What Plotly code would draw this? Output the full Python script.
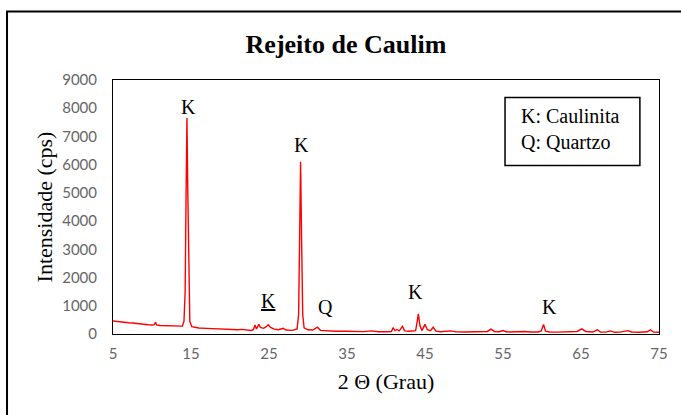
import plotly.graph_objects as go

# 2-theta (degrees) and intensity (cps)
two_theta = [
    5.0, 5.5, 6.0, 6.5, 7.0, 7.5, 8.0, 8.5, 9.0, 9.5, 10.0, 10.3, 10.45, 10.6,
    11.0, 11.5, 12.0, 12.5, 13.0, 13.5, 13.9, 14.1, 14.25, 14.38, 14.48, 14.58,
    14.72, 14.85, 15.1, 15.5, 16.0, 17.0, 18.0, 19.0, 20.0, 21.0, 21.5, 22.0,
    22.7, 23.0, 23.2, 23.4, 23.7, 23.9, 24.3, 24.6, 24.9, 25.2, 25.6, 26.2,
    26.8, 27.2, 28.0, 28.6, 28.8, 28.93, 29.05, 29.17, 29.32, 29.5, 30.0, 30.6,
    31.2, 31.6, 32.5, 33.5, 35.0, 36.0, 37.0, 38.2, 39.0, 40.0, 40.7, 40.9,
    41.15, 41.4, 41.7, 42.1, 42.4, 43.0, 43.8, 44.0, 44.15, 44.35, 44.6, 45.0,
    45.3, 45.7, 46.05, 46.4, 47.0, 48.3, 49.0, 50.0, 51.0, 52.0, 53.0, 53.45,
    53.9, 54.5, 55.0, 55.5, 56.0, 57.0, 57.8, 58.5, 59.5, 59.9, 60.2, 60.45,
    61.0, 62.0, 63.0, 64.5, 65.1, 65.6, 66.5, 67.1, 67.5, 68.2, 68.8, 69.3,
    70.0, 70.5, 71.0, 71.5, 72.5, 73.5, 73.9, 74.3, 75.0,
]
intensity = [
    460, 440, 430, 420, 400, 390, 370, 360, 340, 330, 320, 330, 420, 320,
    300, 295, 285, 275, 270, 265, 280, 450, 1500, 5200, 7650, 5200,
    1400, 450, 260, 230, 215, 200, 185, 175, 160, 150, 165, 140,
    125, 150, 320, 180, 340, 230, 200, 250, 330, 230, 180, 150,
    200, 140, 130, 180, 700, 3500, 6100, 3500, 700, 220, 150, 140,
    240, 130, 110, 100, 95, 90, 85, 110, 80, 80, 90, 225,
    120, 160, 110, 270, 110, 100, 120, 450, 710, 300, 120, 340,
    150, 120, 240, 100, 80, 110, 75, 70, 70, 75, 90, 170,
    90, 80, 120, 70, 75, 70, 90, 70, 70, 110, 340, 100,
    70, 65, 70, 90, 180, 90, 70, 150, 70, 65, 110, 60,
    65, 80, 120, 70, 60, 80, 150, 70, 60,
]

x_ticks = [5, 15, 25, 35, 45, 55, 65, 75]
y_ticks = [0, 1000, 2000, 3000, 4000, 5000, 6000, 7000, 8000, 9000]

# peak labels: text, 2-theta, intensity
peak_text = ["K", "K", "<u>K</u>", "Q", "K", "K"]
peak_x = [14.7, 29.2, 24.9, 32.2, 43.8, 60.9]
peak_y = [8050, 6700, 1170, 950, 1480, 970]

legend_lines = ["K: Caulinita", "Q: Quartzo"]

serif = "Liberation Serif"

fig = go.Figure()
fig.add_trace(go.Scatter(
    x=two_theta, y=intensity, mode="lines",
    line=dict(color="#FF0000", width=1.4),
    showlegend=False, hoverinfo="skip",
))

for t, px, py in zip(peak_text, peak_x, peak_y):
    fig.add_annotation(x=px, y=py, xref="x", yref="y", text=t, showarrow=False,
                       font=dict(family=serif, size=20, color="black"),
                       xanchor="center", yanchor="middle")

# legend-like text box
fig.add_shape(type="rect", xref="paper", yref="paper",
              x0=0.718, x1=0.965, y0=0.663, y1=0.931,
              line=dict(color="black", width=1.5), fillcolor="white")
fig.add_annotation(x=0.744, y=0.807, xref="paper", yref="paper",
                   text="<br>".join(legend_lines), showarrow=False, align="left",
                   xanchor="left", yanchor="middle",
                   font=dict(family=serif, size=20, color="black"))

# outer frame
fig.add_shape(type="rect", xref="paper", yref="paper",
              x0=-0.1941, x1=1.06, y0=-0.34, y1=1.270,
              line=dict(color="black", width=2), layer="below")

fig.update_layout(
    width=681, height=415,
    margin=dict(l=113, r=22, t=80, b=81),
    paper_bgcolor="white", plot_bgcolor="white",
    title=dict(text="<b>Rejeito de Caulim</b>", xref="container", yref="container",
               x=0.508, y=0.894, xanchor="center", yanchor="middle",
               font=dict(family=serif, size=26, color="black")),
    xaxis=dict(range=[5, 75], tickvals=x_ticks, ticktext=[str(v) for v in x_ticks],
               showgrid=False, zeroline=False, showline=True, linecolor="black",
               linewidth=1, mirror=True, ticks="outside", ticklen=6,
               tickcolor="rgba(0,0,0,0)",
               tickfont=dict(family="Lato", size=15, color="#666666"),
               title=dict(text="2 Θ (Grau)", standoff=12,
                          font=dict(family=serif, size=22, color="black"))),
    yaxis=dict(range=[0, 9000], tickvals=y_ticks, ticktext=[str(v) for v in y_ticks],
               showgrid=False, zeroline=False, showline=True, linecolor="black",
               linewidth=1, mirror=True, ticks="outside", ticklen=12,
               tickcolor="rgba(0,0,0,0)",
               tickfont=dict(family="Lato", size=15, color="#666666"),
               title=dict(text="Intensidade (cps)", standoff=3,
                          font=dict(family=serif, size=22, color="black"))),
)

fig.write_html("out.html")
